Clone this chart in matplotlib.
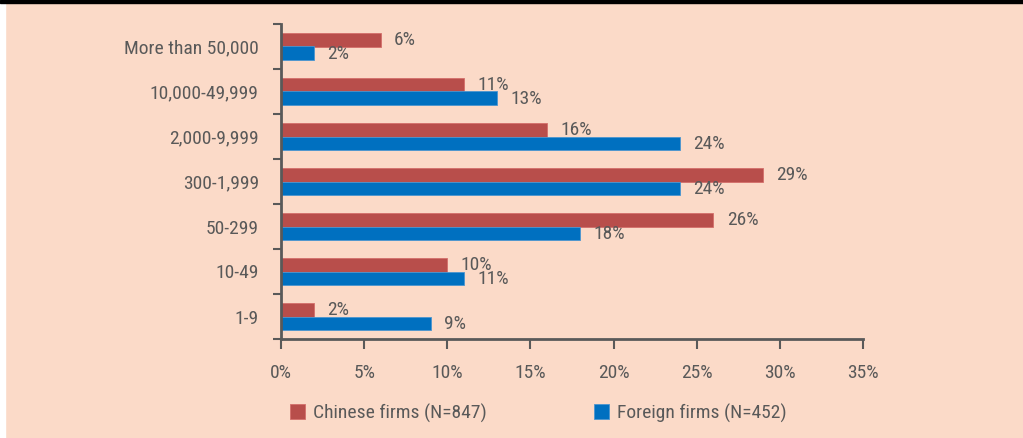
import matplotlib
matplotlib.use('Agg')
import matplotlib.pyplot as plt
import numpy as np
from matplotlib.patches import Rectangle
from matplotlib import font_manager

BG = '#FBDAC8'
RED = '#B84E4B'
BLUE = '#0070C0'
TXT = '#595959'

names = {f.name for f in font_manager.fontManager.ttflist}
fam = [n for n in ['Liberation Sans Narrow', 'Roboto Condensed', 'Liberation Sans'] if n in names]
plt.rcParams['font.family'] = fam + ['DejaVu Sans']
FS = 14 if fam and fam[0] != 'Liberation Sans' else 12

categories = ['More than 50,000', '10,000-49,999', '2,000-9,999', '300-1,999',
              '50-299', '10-49', '1-9']
chinese = [6, 11, 16, 29, 26, 10, 2]
foreign = [2, 13, 24, 24, 18, 11, 9]
xticks = [0, 5, 10, 15, 20, 25, 30, 35]

fig = plt.figure(figsize=(10.23, 4.38), dpi=100)
fig.patch.set_facecolor(BG)
# white strip on the left and black band on top
fig.patches.append(Rectangle((0, 0), 5 / 1023, 1, transform=fig.transFigure,
                             color='white', zorder=0))
fig.patches.append(Rectangle((0, 1 - 3 / 438), 1, 3 / 438, transform=fig.transFigure,
                             color='black', zorder=0))

ax = fig.add_axes([281 / 1023, 1 - 339 / 438, (863 - 281) / 1023, (339 - 24) / 438])
ax.set_facecolor(BG)

n = len(categories)
y = np.arange(n)[::-1].astype(float)
h = 0.29
ax.barh(y + h / 2, chinese, height=h, color=RED, edgecolor='#D46F6B', linewidth=0.6,
        label='Chinese firms (N=847)')
ax.barh(y - h / 2, foreign, height=h, color=BLUE, edgecolor='#4A95D0', linewidth=0.6,
        label='Foreign firms (N=452)')

for yi, c, f in zip(y, chinese, foreign):
    ax.text(c + 0.8, yi + h / 2, f'{c}%', va='center', ha='left', fontsize=FS, color=TXT)
    ax.text(f + 0.8, yi - h / 2 - 0.03, f'{f}%', va='center', ha='left', fontsize=FS, color=TXT)

ax.set_xlim(0, 35)
ax.set_ylim(-0.5, n - 0.5)
ax.set_xticks(xticks)
ax.set_xticklabels([f'{t}%' for t in xticks], fontsize=FS, color=TXT)
ax.set_yticks(y)
ax.set_yticklabels(categories, fontsize=FS, color=TXT)
ax.set_yticks(np.arange(n + 1) - 0.5, minor=True)
ax.tick_params(axis='y', which='major', length=0, pad=16)
ax.tick_params(axis='y', which='minor', length=6, width=1.5, color=TXT, direction='out')
ax.tick_params(axis='x', length=7, width=1.5, color=TXT, direction='out', pad=11)

for s in ['top', 'right']:
    ax.spines[s].set_visible(False)
for s in ['left', 'bottom']:
    ax.spines[s].set_color(TXT)
    ax.spines[s].set_linewidth(2)

leg = fig.legend(loc='center left', bbox_to_anchor=(290 / 1023, 1 - 413 / 438), ncol=2,
                 frameon=False, fontsize=FS, handlelength=0.75, handleheight=0.85,
                 columnspacing=5.5, handletextpad=0.45, borderpad=0, borderaxespad=0)
for t in leg.get_texts():
    t.set_color(TXT)

fig.savefig('out.png', dpi=100, facecolor=BG)
